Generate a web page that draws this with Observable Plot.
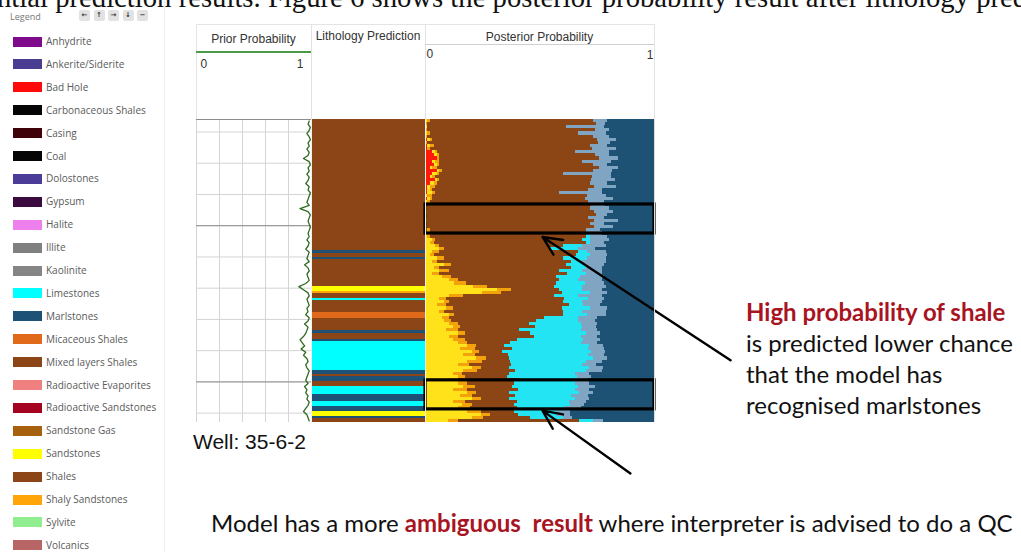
<!DOCTYPE html>
<html><head><meta charset="utf-8">
<script src="https://cdn.jsdelivr.net/npm/d3@7"></script>
<script src="https://cdn.jsdelivr.net/npm/@observablehq/plot@0.6"></script>
<style>
body{margin:0;background:#fff;}
#page{position:relative;width:1021px;height:552px;overflow:hidden;background:#fff;font-family:"Liberation Sans",Arial,sans-serif;}
.abs{position:absolute;white-space:nowrap;}
.lg{font-family:"Open Sans",sans-serif;font-size:10px;color:#5a5a5a;}
.btn{position:absolute;top:10px;width:11px;height:11px;background:#e2e2e2;border-radius:2px;font:bold 7px "DejaVu Sans",sans-serif;color:#333;text-align:center;line-height:11px;overflow:hidden;}
.ann{font-family:Lato,sans-serif;font-size:24px;color:#111;}
.red{color:#a8141f;font-weight:bold;}
.hd{font-size:12px;color:#333;text-align:center;}
</style></head>
<body><div id="page"></div>
<script>
// ---------- data ----------
const legendNames = ["Anhydrite","Ankerite/Siderite","Bad Hole","Carbonaceous Shales","Casing","Coal","Dolostones","Gypsum","Halite","Illite","Kaolinite","Limestones","Marlstones","Micaceous Shales","Mixed layers Shales","Radioactive Evaporites","Radioactive Sandstones","Sandstone Gas","Sandstones","Shales","Shaly Sandstones","Sylvite","Volcanics"];
const legendColors = ["#800a8c","#4a3d91","#ff0a0a","#050505","#3f0208","#050505","#4b3c98","#3b0a3f","#ee80ee","#808080","#858585","#00ffff","#1d5276","#e0691a","#8b4516","#f08080","#a5021f","#a7600e","#ffff00","#8b4516","#ffa50a","#90ee90","#b86565"];

const depthDomain = [2096, 2193];
const depthTicks = [2100,2110,2120,2130,2140,2150,2160,2170,2180,2190];
const majorDepthTicks = [2130, 2180];
const priorTicks = [0,0.2,0.4,0.6,0.8,1];

// sample tops (1 m rows)
const depthTop = d3.range(2096, 2193, 1);

const priorProb = [
 .98,.97,.99,.98,.96,.98,.99,.97,.98,.96,
 .98,.97,.93,.98,.99,.97,.98,.96,.98,.97,
 .95,.98,.97,.99,.98,.97,.96,.98,.90,.97,
 .99,.98,.97,.98,.99,.98,.97,.98,.96,.98,
 .97,.95,.98,.97,.96,.98,.94,.97,.98,.96,
 .97,.98,.95,.89,.93,.97,.98,.96,.97,.98,
 .96,.97,.95,.98,.97,.94,.97,.96,.95,.93,
 .90,.92,.94,.91,.95,.93,.96,.97,.95,.96,
 .98,.97,.96,.95,.97,.94,.96,.95,.97,.96,
 .98,.97,.95,.93,.96,.97,.98];

const lithTop  = [2096,2137.9,2138.8,2140.1,2140.7,2149.4,2151.0,2151.8,2153.2,2153.8,2157.7,2159.6,2163.4,2164.4,2166.3,2167.2,2176.2,2177.5,2178.4,2180.0,2181.6,2183.9,2186.4,2188.0,2189.6,2191.2,2191.8];
const lithBase = [2137.9,2138.8,2140.1,2140.7,2149.4,2151.0,2151.8,2153.2,2153.8,2157.7,2159.6,2163.4,2164.4,2166.3,2167.2,2176.2,2177.5,2178.4,2180.0,2181.6,2183.9,2186.4,2188.0,2189.6,2191.2,2191.8,2193];
const lithClass = ["Shales","Marlstones","Shales","Marlstones","Shales","Sandstones","Shaly Sandstones","Shales","Limestones","Shales","Micaceous Shales","Shales","Marlstones","Shales","Marlstones","Limestones","Marlstones","Shales","Marlstones","Shales","Limestones","Marlstones","Limestones","Marlstones","Sandstones","Marlstones","Shales"];

const postClasses = ["Bad Hole","Sandstones","Shaly Sandstones","Shales","Limestones","Illite","Marlstones"];
const postColors  = ["#ff1a0a","#ffe21a","#f4a20c","#8c4615","#22e4f2","#7fa5c2","#1d5275"];
const postBadHole = [0,0,0,0,0,0,1,0,1,1, 3,4,5,3,4,2,5,3,2,4, 2,1,1,1,0,1,0,0,0,0,
 0,0,0,0,0,0,0,0,0,0, 0,0,0,0,0,0,0,0,0,0, 0,0,0,0,0,0,0,0,0,0, 0,0,0,0,0,0,0,0,0,0,
 0,0,0,0,0,0,0,0,0,0, 0,0,0,0,0,0,0,0,0,0, 0,0,0,0,0,0,0];
const postSandstones = [1,0,1,0,1,0,1,0,1,0, 1,1,0,1,1,1,1,2,1,1, 2,1,1,2,1,1,1,0,0,1,
 0,0,1,0,0,1,1,1,3,2, 4,6,3,2,5,3,8,4,6,3, 7,10,12,20,30,24,10,6,8,5, 9,6,10,7,8,10,12,9,14,10,
 12,14,18,15,20,16,22,18,14,20, 16,12,14,10,14,16,12,18,15,20, 12,16,14,18,24,20,10];
const postShalySand = [1,1,0,1,1,1,1,1,2,1, 1,1,1,2,1,2,1,1,1,1, 1,2,1,1,2,1,1,1,1,0,
 1,1,0,1,1,1,1,1,1,2, 2,2,3,2,3,2,3,2,4,3, 4,4,5,6,6,8,6,3,2,4, 3,2,2,3,3,4,3,5,3,4,
 5,4,4,6,3,5,4,6,5,4, 6,4,3,4,4,5,6,4,5,4, 5,4,5,6,4,5,4];
const postShales = [70,72,58,71,62,70,69,73,66,68, 58,66,67,60,66,68,64,52,66,63, 65,67,66,52,65,64,67,70,69,70,
 72,68,70,69,70,67,66,66,62,64, 52,45,58,60,50,56,48,56,46,54, 44,42,38,28,20,26,38,50,48,52, 46,50,46,40,36,30,32,26,28,32,
 22,18,12,16,10,14,10,12,18,12, 16,20,18,26,20,16,22,14,18,12, 22,18,20,14,12,20,52];
const postLimestones = [0,0,0,0,0,0,0,0,0,0, 0,0,0,0,0,0,0,0,0,0, 0,0,0,0,0,0,0,0,0,0,
 0,0,0,0,0,0,0,2,3,2, 8,12,4,6,10,5,8,6,10,8, 10,8,12,12,10,12,10,10,8,6, 12,8,10,14,18,22,20,26,24,20,
 28,30,36,32,38,34,36,32,30,34, 30,28,30,22,26,28,24,30,24,28, 22,24,20,18,16,14,6];
const postIllite = [6,4,16,6,12,7,8,5,7,10, 14,6,8,12,6,8,8,20,8,10, 7,9,6,18,8,12,7,6,8,8,
 5,7,10,6,8,6,7,7,8,6, 10,7,8,7,8,10,8,7,8,7, 10,10,8,10,8,7,10,7,8,7, 7,10,8,8,7,7,6,7,6,7,
 7,7,6,7,6,7,6,7,6,6, 7,6,6,7,6,7,6,6,7,6, 7,6,7,6,6,4,4];
const postMarl = [20,21,21,19,20,19,16,19,20,16, 19,19,15,18,20,15,18,18,18,16, 20,16,22,22,20,17,21,21,19,17,
 20,21,15,21,17,23,22,20,19,21, 20,25,20,20,20,20,21,22,22,22, 21,22,21,20,22,20,22,21,22,23, 20,20,20,24,25,24,25,24,23,24,
 23,24,22,21,21,21,20,22,25,22, 22,28,27,28,28,25,28,26,28,28, 29,30,31,36,36,35,22];

// annotations (in data units of the posterior track)
const boxTop = [2123.2, 2179.5];
const boxBottom = [2132.5, 2188.8];
const arrowFromX = [1.332, 0.895], arrowFromD = [2173.1, 2209.3];
const arrowToX = [0.511, 0.511],   arrowToD = [2133.6, 2189.2];

// ---------- page ----------
const page = d3.select("#page");
const abs = (x, y) => page.append("div").attr("class","abs").style("left", x+"px").style("top", y+"px");

abs(-3,-15).style("font","28.7px 'Liberation Serif',serif").style("line-height","24px").style("color","#111")
  .text("ntial prediction results. Figure 6 shows the posterior probability result after lithology prediction");

// legend panel
page.append("div").attr("class","abs").style("left","164px").style("top","0px").style("width","1px").style("height","552px").style("background","#efefef");
abs(10,10.5).attr("class","abs lg").style("font-size","9px").style("line-height","11px").style("color","#777").text("Legend");
["←","↑","→","↓","−"].forEach((g,i)=>{ page.append("div").attr("class","btn").style("left",(79+i*14.5)+"px").text(g); });
legendNames.forEach((n,i)=>{
  const cy = 41.5 + i*22.9;
  page.append("div").attr("class","abs").style("left","13px").style("top",(cy-5)+"px")
    .style("width","29px").style("height","10px").style("background",legendColors[i]);
  abs(46, cy-7.5).attr("class","abs lg").text(n);
});

// track headers
page.append("div").attr("class","abs").style("left","196px").style("top","24px").style("width","457px").style("height","94px")
  .style("border","1px solid #e4e4e4");
[311,425].forEach(x=>page.append("div").attr("class","abs").style("left",x+"px").style("top","24px").style("width","1px").style("height","95px").style("background","#e2e2e2"));
abs(196,32).attr("class","abs hd").style("width","115px").text("Prior Probability");
page.append("div").attr("class","abs").style("left","196px").style("top","51px").style("width","115px").style("height","2px").style("background","#4a9a4a");
abs(311,29).attr("class","abs hd").style("width","114px").text("Lithology Prediction");
abs(425,30).attr("class","abs hd").style("width","229px").text("Posterior Probability");
page.append("div").attr("class","abs").style("left","425px").style("top","44px").style("width","229px").style("height","1px").style("background","#cfcfcf");

const baseStyle = {fontFamily:"'Liberation Sans',Arial,sans-serif", fontSize:"12px", color:"#333", background:"transparent", overflow:"visible"};

// prior probability track
const priorRows = depthTop.map((d,i)=>({d:d+0.5, p:priorProb[i]}));
const prior = Plot.plot({
  width:115, height:398, marginTop:95, marginBottom:0, marginLeft:0, marginRight:0,
  style: baseStyle,
  x:{domain:[0,1], axis:null},
  y:{domain:depthDomain, reverse:true, axis:null},
  marks:[
    Plot.gridX({ticks:priorTicks, stroke:"#d4d4d4", strokeOpacity:1}),
    Plot.gridY({ticks:depthTicks, stroke:"#d4d4d4", strokeOpacity:1}),
    Plot.gridY({ticks:majorDepthTicks, stroke:"#8c8c8c", strokeOpacity:1}),
    Plot.ruleY([depthDomain[0]], {stroke:"#8c8c8c"}),
    Plot.lineX(priorRows, {x:"p", y:"d", stroke:"#2e6b1f", strokeWidth:1.3}),
    Plot.axisX({anchor:"top", ticks:[0], tickSize:0, label:null, tickFormat:d=>String(d), textAnchor:"start", dx:4, dy:-43, fill:"#333"}),
    Plot.axisX({anchor:"top", ticks:[1], tickSize:0, label:null, tickFormat:d=>String(d), textAnchor:"end", dx:-8, dy:-43, fill:"#333"})
  ]
});
d3.select(prior).style("position","absolute").style("left","196px").style("top","24px");
page.node().appendChild(prior);

// lithology prediction track
const lithRows = lithTop.map((t,i)=>({top:t, base:lithBase[i], cls:lithClass[i]}));
const lith = Plot.plot({
  width:114, height:303, margin:0, style: baseStyle,
  y:{domain:depthDomain, reverse:true, axis:null},
  color:{domain:legendNames, range:legendColors},
  marks:[ Plot.rect(lithRows, {y1:"top", y2:"base", fill:"cls", shapeRendering:"crispEdges"}) ]
});
d3.select(lith).style("position","absolute").style("left","311px").style("top","119px");
page.node().appendChild(lith);

// posterior probability track
const postSeries = [postBadHole, postSandstones, postShalySand, postShales, postLimestones, postIllite, postMarl];
const postRows = [];
depthTop.forEach((d,i)=>{ postClasses.forEach((c,k)=>postRows.push({d0:d, d1:d+1, cls:c, p:postSeries[k][i]})); });
const boxes = boxTop.map((t,i)=>({top:t, bottom:boxBottom[i]}));
const arrows = arrowFromX.map((x,i)=>({x1:x, y1:arrowFromD[i], x2:arrowToX[i], y2:arrowToD[i]}));
const post = Plot.plot({
  width:596, height:456, marginTop:95, marginBottom:58, marginLeft:0, marginRight:367,
  style: baseStyle,
  x:{domain:[0,1], axis:null},
  y:{domain:depthDomain, reverse:true, axis:null},
  color:{domain:postClasses, range:postColors},
  marks:[
    Plot.rectX(postRows, {y1:"d0", y2:"d1", x:"p", fill:"cls", order:postClasses, offset:"normalize", shapeRendering:"crispEdges"}),
    Plot.rect(boxes, {y1:"top", y2:"bottom", fill:"none", stroke:"#000", strokeWidth:3.2}),
    Plot.arrow(arrows, {x1:"x1", y1:"y1", x2:"x2", y2:"y2", stroke:"#000", strokeWidth:2.4, headLength:13, headAngle:50}),
    Plot.axisX({anchor:"top", ticks:[0], tickSize:0, label:null, tickFormat:d=>String(d), textAnchor:"start", dx:1, dy:-53, fill:"#333"}),
    Plot.axisX({anchor:"top", ticks:[1], tickSize:0, label:null, tickFormat:d=>String(d), textAnchor:"end", dx:-1, dy:-52, fill:"#333"})
  ]
});
d3.select(post).style("position","absolute").style("left","425px").style("top","24px");
page.node().appendChild(post);

// separators over data area
[311,425,654].forEach(x=>page.append("div").attr("class","abs").style("left",x+"px").style("top","119px").style("width","1px").style("height","303px").style("background", x===654?"#dcdcdc":"#f2eeee"));

// texts
abs(193,430).style("font","21px 'Liberation Sans',Arial,sans-serif").style("color","#111").text("Well: 35-6-2");
const annLines = [["High probability of shale", true], ["is predicted lower chance", false], ["that the model has", false], ["recognised marlstones", false]];
annLines.forEach(([t,b],i)=>{ abs(746, 297 + i*31).attr("class", "abs ann" + (b?" red":"")).text(t); });
abs(211,508).attr("class","abs ann").html('Model has a more <span class="red">ambiguous&nbsp; result</span> where interpreter is advised to do a QC');
</script>
</body></html>
